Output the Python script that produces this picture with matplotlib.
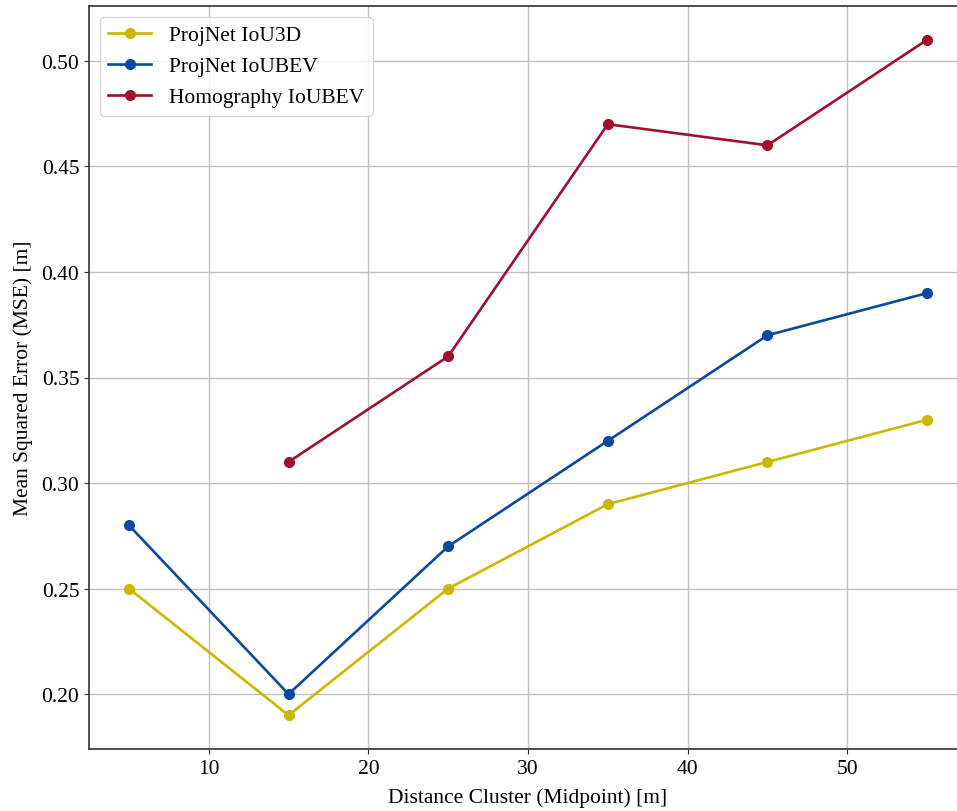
import matplotlib
matplotlib.use("Agg")
import matplotlib.pyplot as plt

distance = [5, 15, 25, 35, 45, 55]
projnet_iou3d = [0.25, 0.19, 0.25, 0.29, 0.31, 0.33]
projnet_ioubev = [0.28, 0.20, 0.27, 0.32, 0.37, 0.39]
homog_distance = [15, 25, 35, 45, 55]
homography_ioubev = [0.31, 0.36, 0.47, 0.46, 0.51]

plt.rcParams['font.family'] = ['Liberation Serif', 'DejaVu Serif']

fig = plt.figure(figsize=(9.57, 8.12), dpi=100)
ax = fig.add_axes([89/957, 1 - 750/812, (967 - 89)/957, (750 - 7)/812])

ax.plot(distance, projnet_iou3d, marker='o', color='#c8b900', lw=1.9, ms=7, label='ProjNet IoU3D')
ax.plot(distance, projnet_ioubev, marker='o', color='#0a4a9e', lw=1.9, ms=7, label='ProjNet IoUBEV')
ax.plot(homog_distance, homography_ioubev, marker='o', color='#a0102e', lw=1.9, ms=7, label='Homography IoUBEV')

ax.grid(True, color='#c0c0c0', lw=1)
ax.set_axisbelow(True)
for s in ax.spines.values():
    s.set_color('#333333')
    s.set_linewidth(1.2)
ax.tick_params(labelsize=15.5, color='#333333')
ax.set_xlabel('Distance Cluster (Midpoint) [m]', fontsize=15.5, labelpad=7)
ax.set_ylabel('Mean Squared Error (MSE) [m]', fontsize=15.5, labelpad=6)
ax.legend(loc='upper left', fontsize=15.5)

fig.savefig('out.png', dpi=100)
